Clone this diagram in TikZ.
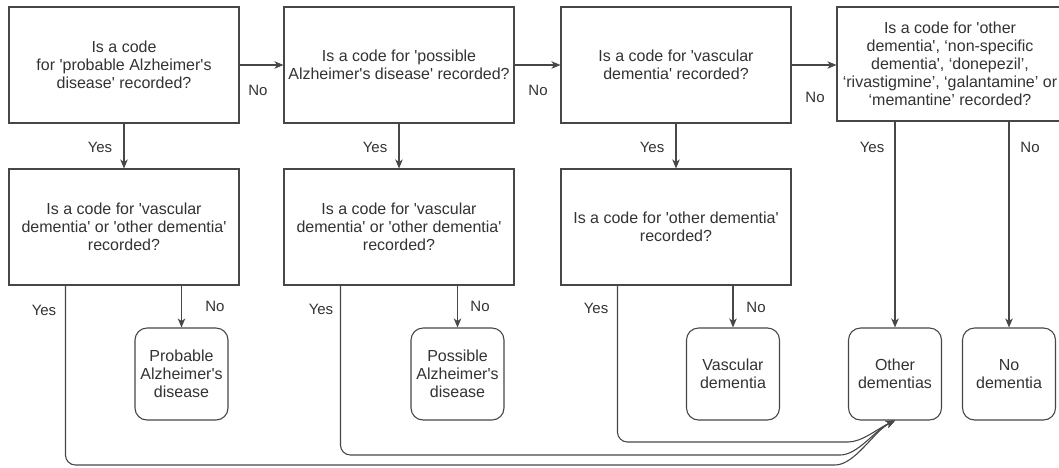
\documentclass[tikz,border=0pt]{standalone}
\usepackage{fontspec}
\setmainfont{Liberation Sans}
\usetikzlibrary{arrows.meta}
\newcommand{\qs}{\textquotesingle}
\begin{document}
\begin{tikzpicture}[x=1pt,y=-1pt,
  every node/.style={text=black!80, font=\fontsize{16}{18}\selectfont},
  qbox/.style={draw=black!72, line width=1.1pt, align=center, inner sep=0pt, minimum height=116pt, minimum width=230pt},
  leaf/.style={draw=black!72, line width=1.1pt, rounded corners=12pt, align=center, minimum width=93pt, minimum height=92pt, inner sep=0pt},
  lab/.style={font=\fontsize{15}{17}\selectfont, inner sep=0pt},
  conn/.style={draw=black!72, line width=1.1pt, -{Stealth[length=9pt,width=7.5pt,inset=2.5pt]}},
  yline/.style={conn, rounded corners=10pt}]
\useasboundingbox (0,0) rectangle (1059,467);
\clip (0,0) rectangle (1059,467);
\fill[white] (0,0) rectangle (1059,467);

% top row
\node[qbox] (a1) at (124,65) {Is a code\\for \qs probable Alzheimer\qs s\\disease\qs{} recorded?};
\node[qbox] (a2) at (399,65) {Is a code for \qs possible\\Alzheimer\qs s disease\qs{} recorded?};
\node[qbox] (a3) at (676,65) {Is a code for \qs vascular\\dementia\qs{} recorded?};
\node[qbox, minimum width=226pt, minimum height=114pt] (a4) at (950,64) {Is a code for \qs other\\dementia\qs, ‘non-specific\\dementia\qs, ‘donepezil’,\\‘rivastigmine’, ‘galantamine’ or\\‘memantine’ recorded?};

% second row
\node[qbox, minimum height=116pt] (b1) at (124,227) {Is a code for \qs vascular\\dementia\qs{} or \qs other dementia\qs\\recorded?};
\node[qbox, minimum height=116pt] (b2) at (399,227) {Is a code for \qs vascular\\dementia\qs{} or \qs other dementia\qs\\recorded?};
\node[qbox, minimum height=116pt] (b3) at (676,227) {Is a code for \qs other dementia\qs\\recorded?};

% leaves
\node[leaf] (pad) at (181.5,374) {Probable\\Alzheimer\qs s\\disease};
\node[leaf] (posad) at (457.5,374) {Possible\\Alzheimer\qs s\\disease};
\node[leaf] (vd) at (733,374) {Vascular\\dementia};
\node[leaf] (od) at (895,374) {Other\\dementias};
\node[leaf] (nd) at (1009,374) {No\\dementia};

% horizontal No arrows
\draw[conn] (a1.east) -- (a1.east -| a2.west);
\draw[conn] (a2.east) -- (a2.east -| a3.west);
\draw[conn] (a3.east) -- (a3.east -| a4.west);

% vertical Yes arrows
\draw[conn] (a1.south) -- (a1.south |- b1.north);
\draw[conn] (a2.south) -- (a2.south |- b2.north);
\draw[conn] (a3.south) -- (a3.south |- b3.north);
\draw[conn] (a4.south -| od.north) -- (od.north);
\draw[conn] (a4.south -| nd.north) -- (nd.north);

% No arrows to leaves
\draw[conn] (b1.south -| pad.north) -- (pad.north);
\draw[conn] (b2.south -| posad.north) -- (posad.north);
\draw[conn] (b3.south -| vd.north) -- (vd.north);

% Yes lines to other dementias
\coordinate (h1) at (825,465);
\coordinate (h2) at (830,455);
\coordinate (h3) at (838,442);
\draw[yline] ([xshift=57pt]b1.south west) |- (h1) .. controls (855,465) and (874,431) .. (od.south);
\draw[yline] ([xshift=57pt]b2.south west) |- (h2) .. controls (858,455) and (875,430) .. (od.south);
\draw[yline] ([xshift=57pt]b3.south west) |- (h3) .. controls (862,442) and (877,429) .. (od.south);

% labels
\node[lab] (n1) at (258,90) {No};
\node[lab] (n2) at (538,90) {No};
\node[lab] (n3) at (815,97) {No};
\node[lab] (y1) at (100,147) {Yes};
\node[lab] (y2) at (375,147) {Yes};
\node[lab] (y3) at (652,147) {Yes};
\node[lab] (y4) at (872,147) {Yes};
\node[lab] (n4) at (1030,147) {No};
\node[lab] (y5) at (44,310) {Yes};
\node[lab] (n5) at (215,306) {No};
\node[lab] (y6) at (321,309) {Yes};
\node[lab] (n6) at (480,306) {No};
\node[lab] (y7) at (596,308) {Yes};
\node[lab] (n7) at (756,307) {No};
\end{tikzpicture}
\end{document}
